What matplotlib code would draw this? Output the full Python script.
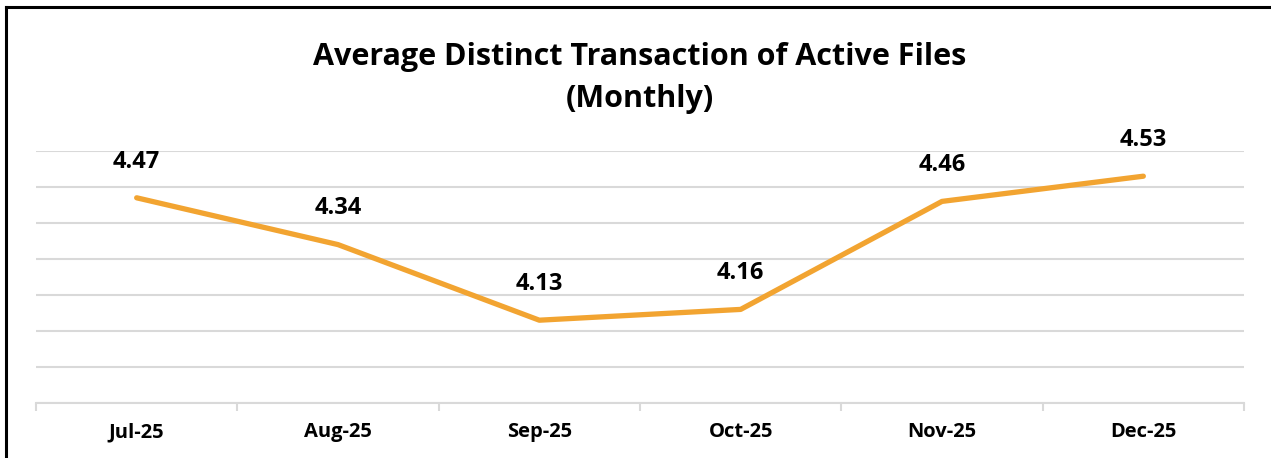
import matplotlib
matplotlib.use("Agg")
import matplotlib.pyplot as plt
from matplotlib.lines import Line2D

months = ["Jul-25", "Aug-25", "Sep-25", "Oct-25", "Nov-25", "Dec-25"]
values = [4.47, 4.34, 4.13, 4.16, 4.46, 4.53]
y_ticks = [3.9, 4.0, 4.1, 4.2, 4.3, 4.4, 4.5, 4.6]
title = "Average Distinct Transaction of Active Files\n(Monthly)"

W, H = 1271, 458
fig = plt.figure(figsize=(W / 100, H / 100), dpi=100)
fig.patch.set_facecolor("white")

font = "Open Sans"
ax = fig.add_axes([36 / W, 1 - 403 / H, (1244 - 36) / W, (403 - 151) / H])
x = list(range(len(months)))
ax.plot(x, values, color="#F2A431", lw=3.8, solid_capstyle="round", zorder=3)
for xi, v in zip(x, values):
    ax.annotate(f"{v:.2f}", (xi, v), xytext=(0, 26), textcoords="offset points",
                ha="center", va="center", fontsize=17, fontweight="bold",
                family=font, color="black")

ax.set_xlim(-0.5, len(months) - 0.5)
ax.set_ylim(y_ticks[0], y_ticks[-1])
ax.set_yticks(y_ticks)
ax.yaxis.grid(True, color="#D9D9D9", lw=1.5)
ax.set_axisbelow(True)
ax.tick_params(axis="y", left=False, labelleft=False)
for s in ["top", "right", "left"]:
    ax.spines[s].set_visible(False)
ax.spines["bottom"].set_color("#D9D9D9")
ax.spines["bottom"].set_linewidth(1.5)
ax.set_xticks([i - 0.5 for i in range(len(months) + 1)], minor=False)
ax.set_xticklabels([])
ax.tick_params(axis="x", which="major", length=6, width=1.5, color="#D9D9D9")
ax.set_xticks(x, minor=True)
ax.set_xticklabels(months, minor=True, fontsize=14.5, fontweight="bold", family=font)
ax.tick_params(axis="x", which="minor", length=0, pad=14)

fig.text(640 / W, 1 - 78 / H, title, ha="center", va="center", fontsize=22,
         fontweight="bold", family=font, linespacing=1.5)

fig.add_artist(Line2D([6 / W, 6 / W], [0, 1 - 7 / H], transform=fig.transFigure,
                      color="black", lw=2.2))
fig.add_artist(Line2D([6 / W, 1], [1 - 7 / H, 1 - 7 / H], transform=fig.transFigure,
                      color="black", lw=2.2))

fig.savefig("out.png", dpi=100)
